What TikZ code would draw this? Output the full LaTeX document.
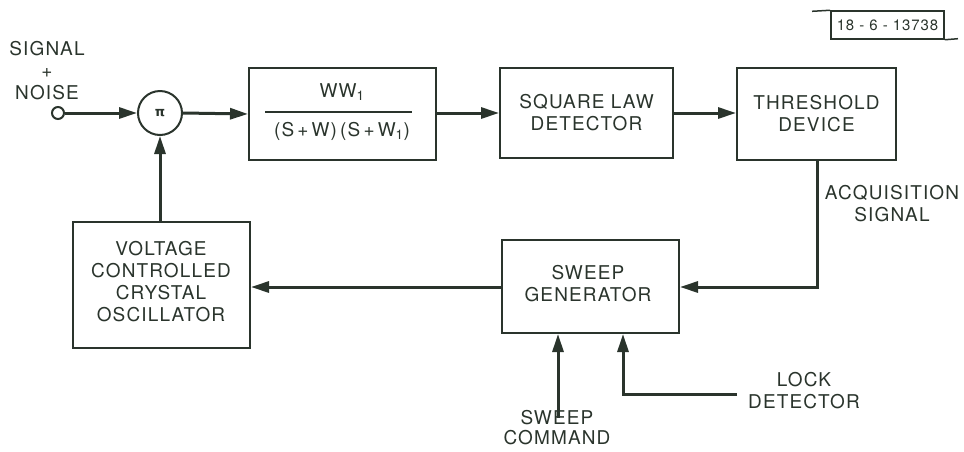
\documentclass[tikz,border=0pt]{standalone}
\usepackage{fontspec}
\setmainfont{TeX Gyre Heros}[LetterSpace=6]
\newfontfamily\dvfont{DejaVu Sans}
\usetikzlibrary{arrows.meta}
\definecolor{ink}{RGB}{42,52,44}
\tikzset{
  blk/.style={draw=ink, line width=2pt, inner sep=0pt},
  conn/.style={draw=ink, line width=3pt, -{Triangle[length=18pt,width=11pt]}},
  lbl/.style={text=ink, font=\fontsize{19}{22}\selectfont, align=center, inner sep=0pt},
}
\begin{document}
\begin{tikzpicture}[x=1pt,y=-1pt]
\useasboundingbox (0,0) rectangle (964,451);
% blocks
\node[blk, minimum width=187pt, minimum height=92pt] (filt) at (342.5,114) {};
\node[blk, minimum width=173pt, minimum height=90pt] (sq) at (586.5,113) {};
\node[blk, minimum width=159pt, minimum height=92pt] (th) at (816.5,114) {};
\node[blk, minimum width=177pt, minimum height=93pt] (sw) at (590.5,286.5) {};
\node[blk, minimum width=177pt, minimum height=126pt] (vco) at (161.5,285) {};
\node[draw=ink, line width=2pt, circle, minimum size=44pt, inner sep=0pt] (mix) at (160,113) {};
\node[text=ink, inner sep=0pt] (pisym) at (160,113) {\dvfont\bfseries\fontsize{13}{13}\selectfont π};
\node[draw=ink, line width=2pt, circle, minimum size=12pt, inner sep=0pt, fill=white] (in) at (58,113) {};
% texts
\node[lbl] (sn) at (47,71) {SIGNAL\\+\\NOISE};
\node[lbl] (num) at (342,92) {WW\textsubscript{1}};
\node[lbl] (den) at (342,131) {(S\,+\,W)\,(S\,+\,W\textsubscript{1})};
\draw[ink, line width=1.6pt] (265,112) -- (412,112);
\node[lbl] (sqt) at (sq) {SQUARE LAW\\DETECTOR};
\node[lbl] (tht) at (th) {THRESHOLD\\DEVICE};
\node[lbl] (swt) at (588,284) {SWEEP\\GENERATOR};
\node[lbl] (vcot) at (161,282) {VOLTAGE\\CONTROLLED\\CRYSTAL\\OSCILLATOR};
\node[lbl] (acq) at (892,204) {ACQUISITION\\SIGNAL};
\node[lbl, font=\fontsize{19}{20}\selectfont] (swc) at (557,428) {SWEEP\\COMMAND};
\node[lbl] (lock) at (804,391) {LOCK\\DETECTOR};
% id tag
\node[draw=ink, line width=1.5pt, minimum width=113pt, minimum height=28pt, inner sep=0pt, text=ink] (tag) at (887.5,25) {\fontsize{15}{15}\selectfont 18 - 6 - 13738};
\draw[ink, line width=1.5pt] (812,11.3) -- (tag.north west);
\draw[ink, line width=1.5pt] (tag.south east) -- (958,38.7);
% connectors
\draw[conn] (in.east) -- (mix.west);
\draw[conn] (mix.east) -- (filt.west);
\draw[conn] (filt.east |- 0,113) -- (sq.west |- 0,113);
\draw[conn] (sq.east |- 0,113) -- (th.west |- 0,113);
\draw[conn] (th.south -| 817,0) |- (sw.east |- 0,287);
\draw[conn] (sw.west |- 0,287) -- (vco.east |- 0,287);
\draw[conn] (vco.north -| 160,0) -- (mix.south);
\coordinate (swc0) at (558,418);
\draw[conn] (swc0) -- (sw.south -| swc0);
\coordinate (lk0) at (737,394);
\draw[conn] (lk0) -| (sw.south -| 623,0);
\end{tikzpicture}
\end{document}
